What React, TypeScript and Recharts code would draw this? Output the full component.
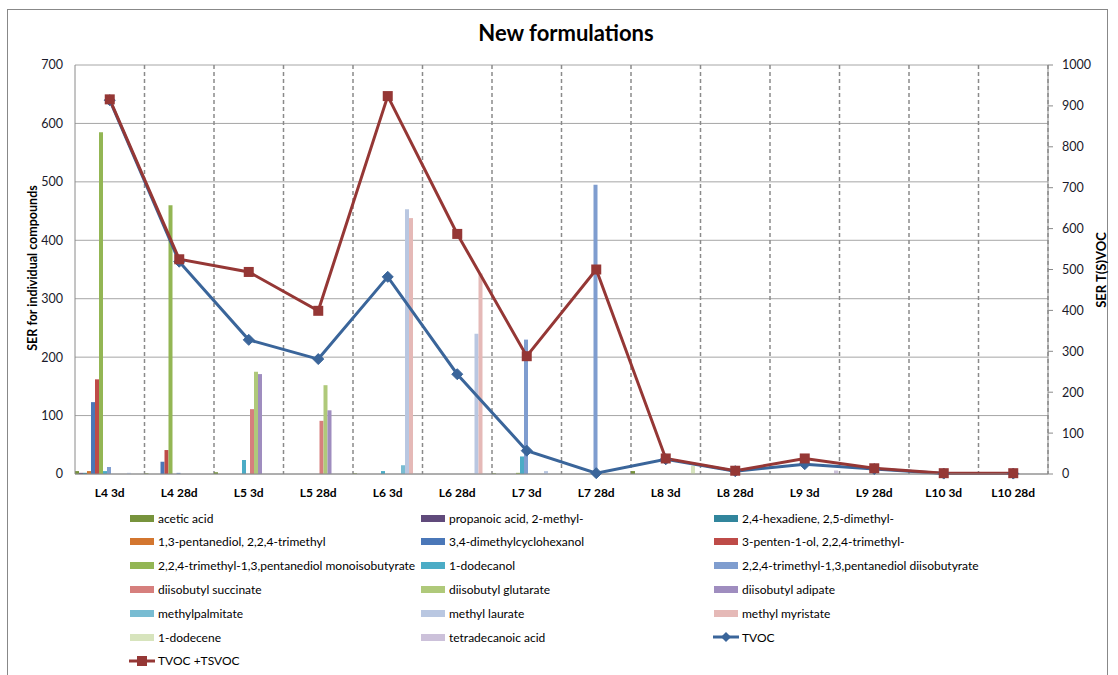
import React from "react";
import { ComposedChart, Bar, Line, XAxis, YAxis, CartesianGrid } from "recharts";

const categories = ["L4 3d", "L4 28d", "L5 3d", "L5 28d", "L6 3d", "L6 28d", "L7 3d", "L7 28d", "L8 3d", "L8 28d", "L9 3d", "L9 28d", "L10 3d", "L10 28d"];

const aceticAcid = [5, 1, 3, 0, 1, 0, 1, 0, 5, 0, 0, 0, 0, 0];
const propanoicAcid = [2, 0, 0, 0, 0, 0, 0, 0, 0, 0, 0, 0, 0, 0];
const hexadiene = [2, 0, 0, 0, 0, 0, 0, 0, 0, 0, 0, 0, 0, 0];
const pentanediol = [5, 0, 0, 0, 0, 0, 0, 0, 0, 0, 0, 0, 0, 0];
const dimethylcyclohexanol = [123, 21, 0, 0, 0, 0, 0, 0, 0, 0, 0, 0, 0, 0];
const pentenol = [162, 41, 0, 0, 0, 0, 0, 0, 0, 0, 0, 0, 0, 0];
const monoisobutyrate = [585, 460, 0, 0, 0, 0, 2, 0, 0, 0, 0, 0, 0, 0];
const dodecanol = [5, 0, 24, 0, 5, 0, 30, 0, 0, 0, 0, 0, 0, 0];
const diisobutyrate = [12, 2, 0, 0, 0, 0, 230, 495, 0, 0, 0, 0, 0, 0];
const succinate = [0, 0, 111, 91, 0, 0, 0, 0, 0, 0, 0, 0, 0, 0];
const glutarate = [0, 0, 175, 152, 0, 0, 0, 0, 0, 0, 0, 0, 0, 0];
const adipate = [0, 0, 171, 109, 0, 0, 0, 0, 0, 0, 0, 0, 0, 0];
const methylPalmitate = [0, 0, 0, 0, 15, 0, 0, 0, 0, 0, 0, 0, 0, 0];
const methylLaurate = [2, 0, 0, 0, 453, 240, 5, 0, 0, 0, 0, 0, 0, 0];
const methylMyristate = [0, 0, 0, 0, 438, 343, 0, 0, 0, 0, 0, 0, 0, 0];
const dodecene = [0, 0, 0, 0, 0, 0, 0, 0, 14, 0, 0, 0, 0, 0];
const tetradecanoicAcid = [0, 0, 0, 0, 0, 0, 0, 0, 0, 0, 6, 0, 0, 0];

const tvoc = [914, 519, 328, 281, 482, 244, 57, 2, 36, 7, 24, 12, 1, 1];
const tvocTsvoc = [916, 525, 494, 399, 924, 587, 288, 500, 38, 8, 38, 14, 2, 2];

const leftTicks = [0, 100, 200, 300, 400, 500, 600, 700];
const rightTicks = [0, 100, 200, 300, 400, 500, 600, 700, 800, 900, 1000];

const barSeries = [
  { key: "s0", name: "acetic acid", values: aceticAcid, color: "#77933C" },
  { key: "s1", name: "propanoic acid, 2-methyl-", values: propanoicAcid, color: "#604A7B" },
  { key: "s2", name: "2,4-hexadiene, 2,5-dimethyl-", values: hexadiene, color: "#31859C" },
  { key: "s3", name: "1,3-pentanediol, 2,2,4-trimethyl", values: pentanediol, color: "#D3762F" },
  { key: "s4", name: "3,4-dimethylcyclohexanol", values: dimethylcyclohexanol, color: "#4A77B8" },
  { key: "s5", name: "3-penten-1-ol, 2,2,4-trimethyl-", values: pentenol, color: "#BE4B48" },
  { key: "s6", name: "2,2,4-trimethyl-1,3,pentanediol monoisobutyrate", values: monoisobutyrate, color: "#93B654" },
  { key: "s7", name: "1-dodecanol", values: dodecanol, color: "#4BACC6" },
  { key: "s8", name: "2,2,4-trimethyl-1,3,pentanediol diisobutyrate", values: diisobutyrate, color: "#7F9DCF" },
  { key: "s9", name: "diisobutyl succinate", values: succinate, color: "#D67F7D" },
  { key: "s10", name: "diisobutyl glutarate", values: glutarate, color: "#AFC97A" },
  { key: "s11", name: "diisobutyl adipate", values: adipate, color: "#9F8DBF" },
  { key: "s12", name: "methylpalmitate", values: methylPalmitate, color: "#78BCD2" },
  { key: "s13", name: "methyl laurate", values: methylLaurate, color: "#B9C7E1" },
  { key: "s14", name: "methyl myristate", values: methylMyristate, color: "#E5B9B7" },
  { key: "s15", name: "1-dodecene", values: dodecene, color: "#D7E4BD" },
  { key: "s16", name: "tetradecanoic acid", values: tetradecanoicAcid, color: "#CCC1DA" },
];

const TVOC_COLOR = "#3A659A";
const TSVOC_COLOR = "#953735";

const data = categories.map((category, i) => {
  const row: Record<string, any> = { category, tvoc: tvoc[i], tvocTsvoc: tvocTsvoc[i] };
  barSeries.forEach((s) => (row[s.key] = s.values[i]));
  return row;
});

const FONT = "Lato, 'Open Sans', sans-serif";

const Diamond = (props: any) => {
  const { cx, cy, index } = props;
  if (cx == null || cy == null) return <g key={`d-${index}`} />;
  const r = 5.5;
  return (
    <polygon
      key={`d-${index}`}
      points={`${cx},${cy - r} ${cx + r},${cy} ${cx},${cy + r} ${cx - r},${cy}`}
      fill={TVOC_COLOR}
      stroke={TVOC_COLOR}
    />
  );
};

const Square = (props: any) => {
  const { cx, cy, index } = props;
  if (cx == null || cy == null) return <g key={`s-${index}`} />;
  const r = 5;
  return <rect key={`s-${index}`} x={cx - r} y={cy - r} width={2 * r} height={2 * r} fill={TSVOC_COLOR} />;
};

type LegendItem = { name: string; color: string; kind: "bar" | "diamond" | "square" };
const legendItems: LegendItem[] = [
  ...barSeries.map((s) => ({ name: s.name, color: s.color, kind: "bar" as const })),
  { name: "TVOC", color: TVOC_COLOR, kind: "diamond" },
  { name: "TVOC +TSVOC", color: TSVOC_COLOR, kind: "square" },
];

const legendCols = [129, 420, 713];

const Swatch = ({ item }: { item: LegendItem }) => {
  if (item.kind === "bar") {
    return <div style={{ width: 24, height: 7, background: item.color }} />;
  }
  return (
    <svg width={26} height={12}>
      <line x1={0} y1={6} x2={26} y2={6} stroke={item.color} strokeWidth={3} />
      {item.kind === "diamond" ? (
        <polygon points="13,1 18,6 13,11 8,6" fill={item.color} />
      ) : (
        <rect x={8} y={1} width={10} height={10} fill={item.color} />
      )}
    </svg>
  );
};

export default function App() {
  return (
    <div style={{ position: "absolute", left: 0, top: 0, width: 1118, height: 675, background: "#fff", overflow: "hidden", fontFamily: FONT }}>
      <div style={{ position: "absolute", left: 7, top: 9, width: 1101, height: 700, border: "1px solid #888", boxSizing: "border-box" }} />
      <div style={{ position: "absolute", left: 0, width: 1132, top: 19, textAlign: "center", fontSize: 22, fontWeight: 700, color: "#000" }}>
        New formulations
      </div>
      <div
        style={{
          position: "absolute",
          left: 32,
          top: 268,
          transform: "translate(-50%, -50%) rotate(-90deg)",
          whiteSpace: "nowrap",
          fontSize: 12.5,
          fontWeight: 700,
          color: "#000",
        }}
      >
        SER for individual compounds
      </div>
      <div
        style={{
          position: "absolute",
          left: 1101,
          top: 270,
          transform: "translate(-50%, -50%) rotate(-90deg)",
          whiteSpace: "nowrap",
          fontSize: 13,
          fontWeight: 700,
          color: "#000",
        }}
      >
        SER T(S)VOC
      </div>
      <div style={{ position: "absolute", left: 0, top: 0 }}>
        <ComposedChart
          width={1118}
          height={675}
          data={data}
          margin={{ top: 65, right: 20, bottom: 171, left: 30 }}
          barCategoryGap={0}
          barGap={0}
        >
          <CartesianGrid yAxisId="left" vertical={false} stroke="#a6a6a6" strokeWidth={1} />
          <CartesianGrid
            yAxisId="left"
            horizontal={false}
            stroke="#8a8a8a"
            strokeWidth={1.5}
            strokeDasharray="4 3"
            verticalCoordinatesGenerator={({ offset }: any) =>
              categories.map((_, i) => offset.left + ((i + 1) * offset.width) / categories.length)
            }
          />
          <XAxis
            dataKey="category"
            height={30}
            tickLine={false}
            tickSize={6}
            tickMargin={8}
            axisLine={{ stroke: "#8a8a8a" }}
            tick={{ fontSize: 12, fontWeight: 700, fill: "#000", fontFamily: FONT }}
            interval={0}
          />
          <YAxis
            yAxisId="left"
            width={45}
            domain={[0, 700]}
            ticks={leftTicks}
            tickLine={false}
            tickSize={6}
            tickMargin={6}
            axisLine={{ stroke: "#8a8a8a" }}
            tick={{ fontSize: 12.5, fill: "#1a1a2a", fontFamily: FONT }}
          />
          <YAxis
            yAxisId="right"
            orientation="right"
            width={50}
            domain={[0, 1000]}
            ticks={rightTicks}
            tickSize={5}
            tickMargin={9}
            tickLine={{ stroke: "#8a8a8a" }}
            axisLine={{ stroke: "#8a8a8a" }}
            tick={{ fontSize: 12.5, fill: "#1a1a2a", fontFamily: FONT, textAnchor: "start" }}
          />
          {barSeries.map((s) => (
            <Bar key={s.key} yAxisId="left" dataKey={s.key} name={s.name} fill={s.color} isAnimationActive={false} />
          ))}
          <Line
            yAxisId="right"
            dataKey="tvoc"
            name="TVOC"
            stroke={TVOC_COLOR}
            strokeWidth={3}
            dot={Diamond}
            activeDot={false}
            isAnimationActive={false}
          />
          <Line
            yAxisId="right"
            dataKey="tvocTsvoc"
            name="TVOC +TSVOC"
            stroke={TSVOC_COLOR}
            strokeWidth={3}
            dot={Square}
            activeDot={false}
            isAnimationActive={false}
          />
        </ComposedChart>
      </div>
      {legendItems.map((item, i) => {
        const col = i % 3;
        const row = Math.floor(i / 3);
        return (
          <div
            key={item.name}
            style={{
              position: "absolute",
              left: legendCols[col],
              top: 518 + row * 23.8 - 8,
              height: 16,
              display: "flex",
              alignItems: "center",
              gap: 3,
              fontSize: 12,
              color: "#000",
              whiteSpace: "nowrap",
            }}
          >
            <div style={{ width: 26, display: "flex", justifyContent: "center" }}>
              <Swatch item={item} />
            </div>
            <span>{item.name}</span>
          </div>
        );
      })}
    </div>
  );
}
